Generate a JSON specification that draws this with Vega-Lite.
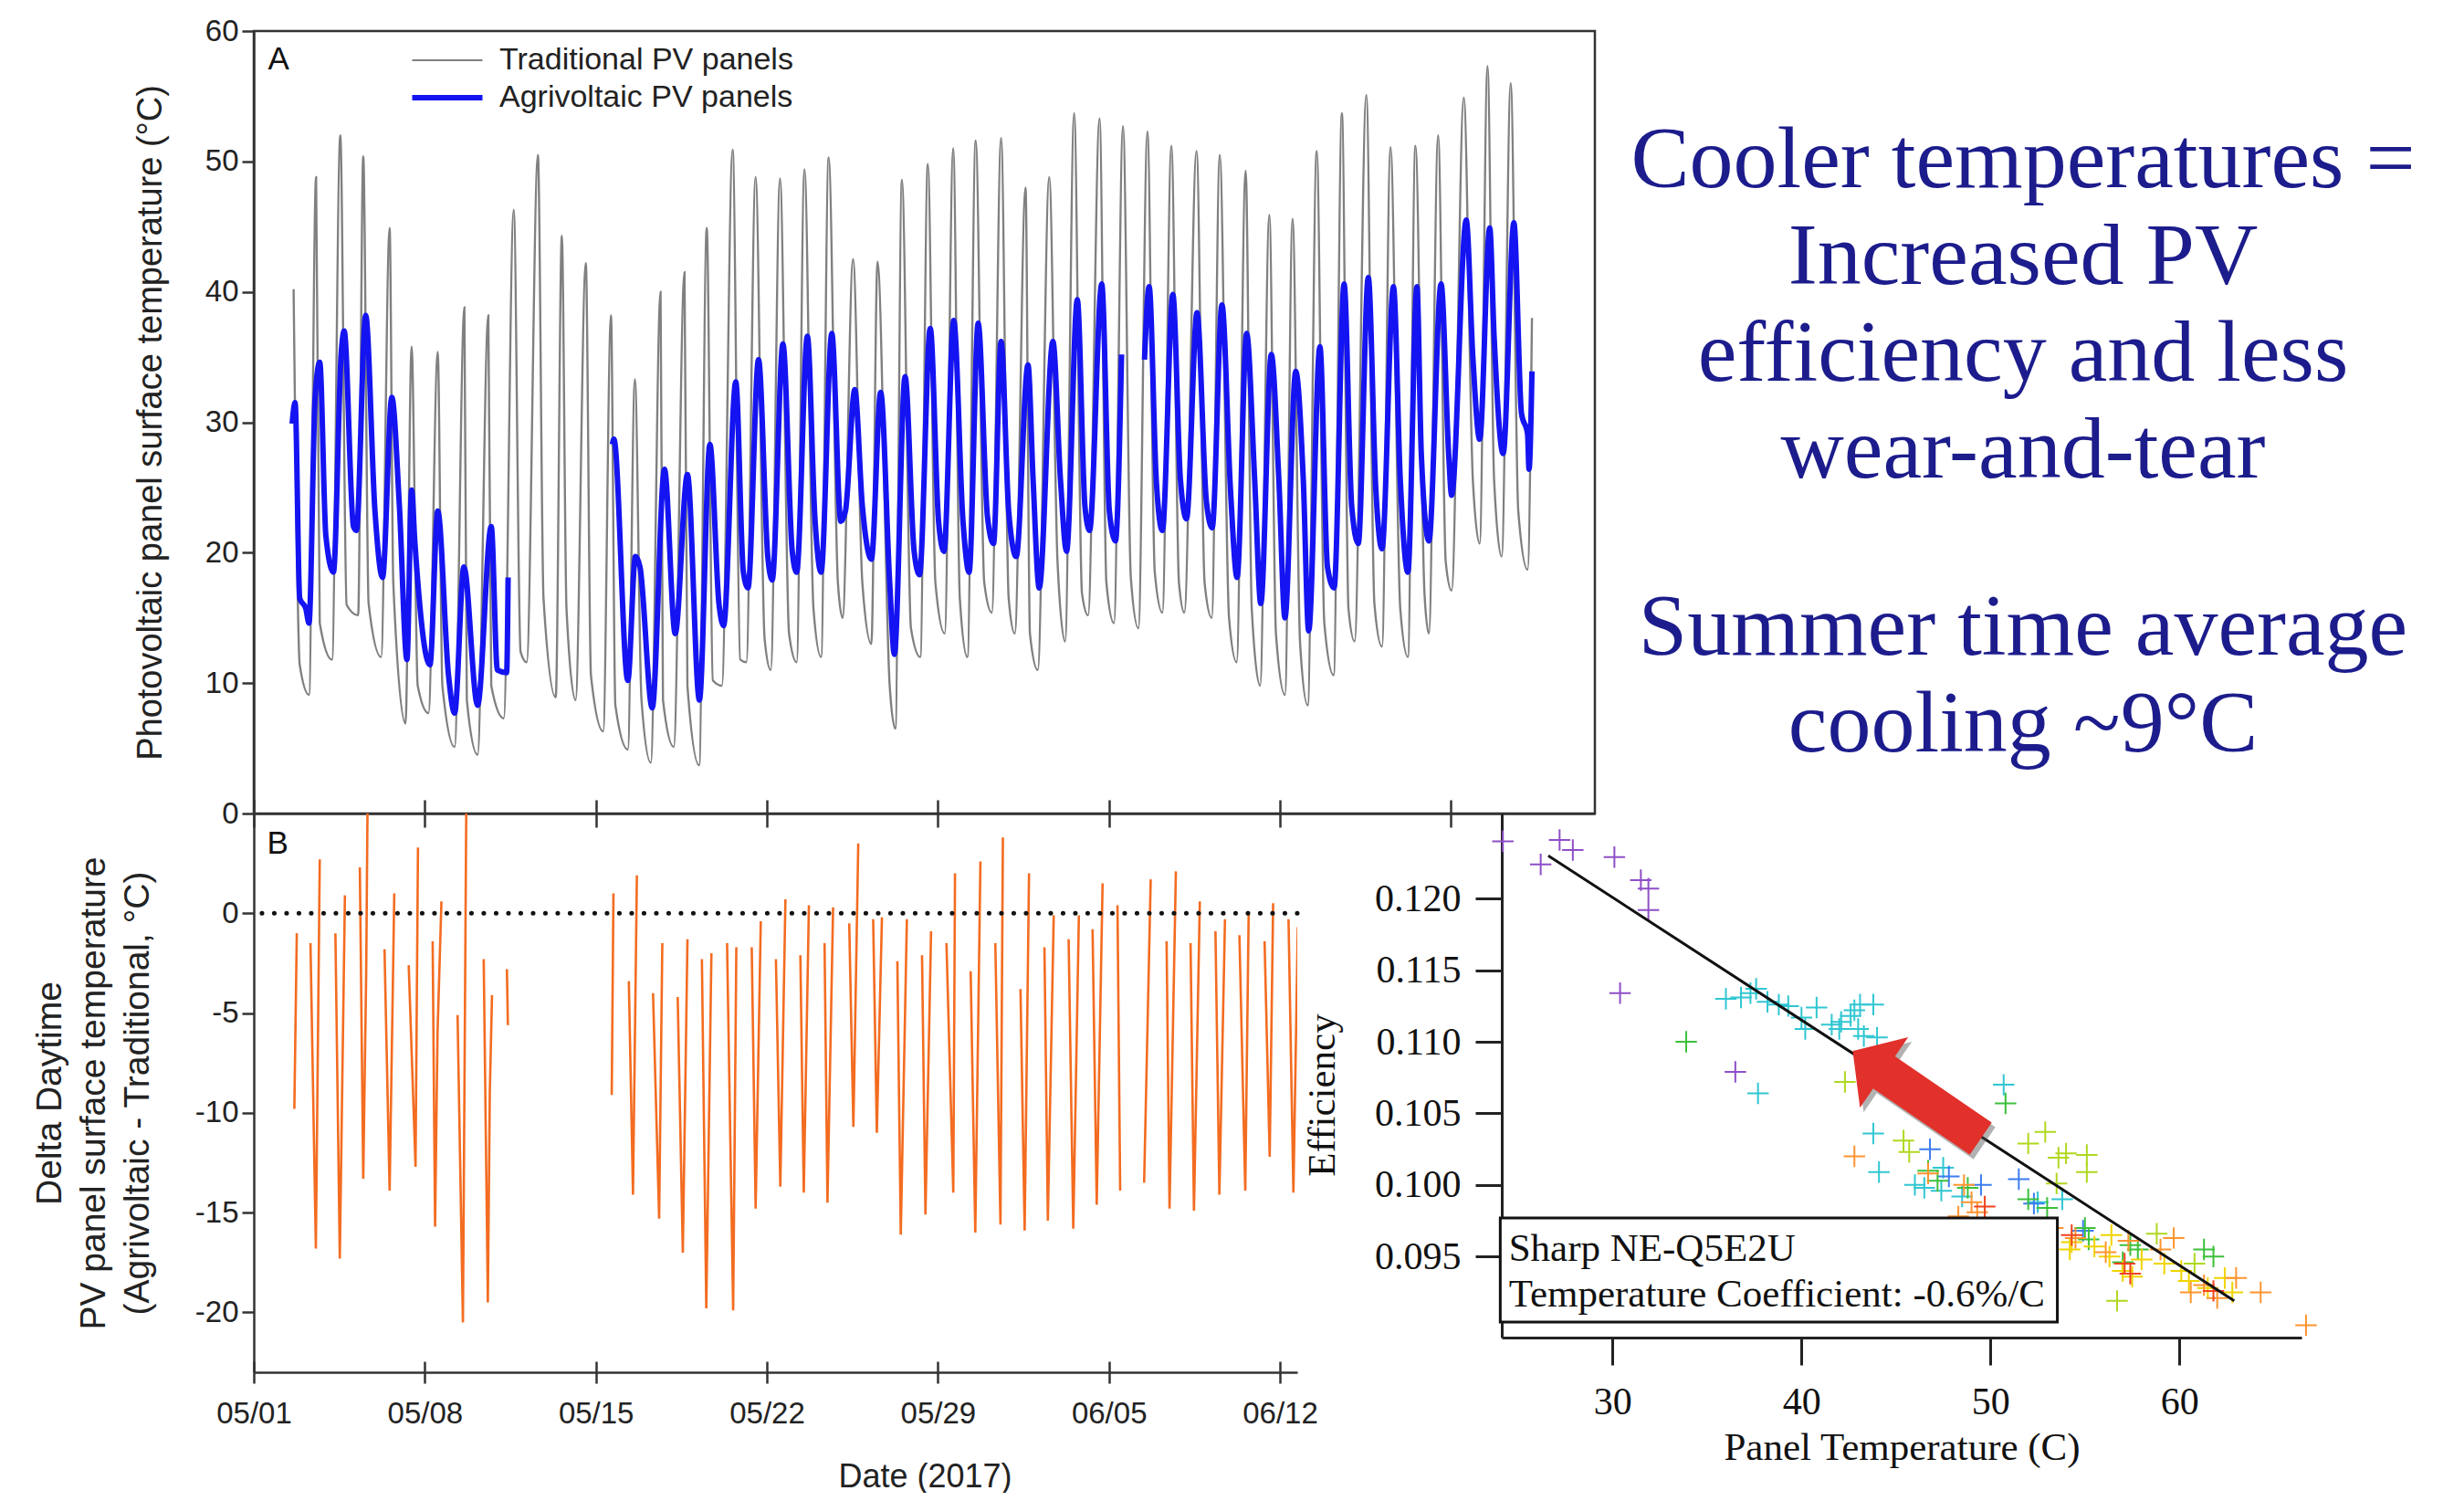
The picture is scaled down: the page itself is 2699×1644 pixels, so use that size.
{
  "$schema": "https://vega.github.io/schema/vega-lite/v6.json",
  "background": "white",
  "autosize": {"type": "pad"},
  "padding": {"left": 35, "top": 16, "right": 0, "bottom": 0},
  "config": {
    "view": {"stroke": null},
    "font": "Liberation Sans",
    "axis": {"labelFont": "Liberation Sans", "titleFont": "Liberation Sans", "domainColor": "#333", "tickColor": "#333", "labelColor": "#222", "titleColor": "#222", "domainWidth": 2.5, "tickWidth": 2.5, "grid": false, "titleFontWeight": "normal", "labelFlush": false}
  },
  "datasets": {
    "trad": [
      {"time":"2017-05-02T15:07","T":40.2,"series":"Traditional PV panels"},
      {"time":"2017-05-02T21:07","T":11.4,"series":"Traditional PV panels"},
      {"time":"2017-05-03T06:14","T":9.1,"series":"Traditional PV panels"},
      {"time":"2017-05-03T13:12","T":48.8,"series":"Traditional PV panels"},
      {"time":"2017-05-03T16:48","T":14.6,"series":"Traditional PV panels"},
      {"time":"2017-05-04T04:48","T":11.8,"series":"Traditional PV panels"},
      {"time":"2017-05-04T12:58","T":52.0,"series":"Traditional PV panels"},
      {"time":"2017-05-04T19:12","T":16.0,"series":"Traditional PV panels"},
      {"time":"2017-05-05T06:29","T":15.2,"series":"Traditional PV panels"},
      {"time":"2017-05-05T11:31","T":50.4,"series":"Traditional PV panels"},
      {"time":"2017-05-05T16:48","T":16.1,"series":"Traditional PV panels"},
      {"time":"2017-05-06T05:02","T":12.0,"series":"Traditional PV panels"},
      {"time":"2017-05-06T13:26","T":44.9,"series":"Traditional PV panels"},
      {"time":"2017-05-06T17:02","T":17.7,"series":"Traditional PV panels"},
      {"time":"2017-05-07T05:02","T":6.9,"series":"Traditional PV panels"},
      {"time":"2017-05-07T11:02","T":35.8,"series":"Traditional PV panels"},
      {"time":"2017-05-07T17:02","T":9.8,"series":"Traditional PV panels"},
      {"time":"2017-05-08T03:36","T":7.7,"series":"Traditional PV panels"},
      {"time":"2017-05-08T12:43","T":35.4,"series":"Traditional PV panels"},
      {"time":"2017-05-08T17:17","T":9.8,"series":"Traditional PV panels"},
      {"time":"2017-05-09T05:17","T":5.1,"series":"Traditional PV panels"},
      {"time":"2017-05-09T14:53","T":38.8,"series":"Traditional PV panels"},
      {"time":"2017-05-09T17:17","T":8.7,"series":"Traditional PV panels"},
      {"time":"2017-05-10T03:50","T":4.5,"series":"Traditional PV panels"},
      {"time":"2017-05-10T14:24","T":38.2,"series":"Traditional PV panels"},
      {"time":"2017-05-10T17:17","T":9.8,"series":"Traditional PV panels"},
      {"time":"2017-05-11T05:31","T":7.3,"series":"Traditional PV panels"},
      {"time":"2017-05-11T15:22","T":46.3,"series":"Traditional PV panels"},
      {"time":"2017-05-11T22:05","T":12.4,"series":"Traditional PV panels"},
      {"time":"2017-05-12T04:05","T":11.6,"series":"Traditional PV panels"},
      {"time":"2017-05-12T15:07","T":50.5,"series":"Traditional PV panels"},
      {"time":"2017-05-12T20:38","T":16.5,"series":"Traditional PV panels"},
      {"time":"2017-05-13T08:38","T":8.9,"series":"Traditional PV panels"},
      {"time":"2017-05-13T14:38","T":44.3,"series":"Traditional PV panels"},
      {"time":"2017-05-13T19:12","T":15.7,"series":"Traditional PV panels"},
      {"time":"2017-05-14T04:05","T":8.7,"series":"Traditional PV panels"},
      {"time":"2017-05-14T14:10","T":42.2,"series":"Traditional PV panels"},
      {"time":"2017-05-14T19:12","T":10.6,"series":"Traditional PV panels"},
      {"time":"2017-05-15T07:12","T":6.3,"series":"Traditional PV panels"},
      {"time":"2017-05-15T14:53","T":38.2,"series":"Traditional PV panels"},
      {"time":"2017-05-15T19:12","T":8.3,"series":"Traditional PV panels"},
      {"time":"2017-05-16T07:26","T":4.9,"series":"Traditional PV panels"},
      {"time":"2017-05-16T14:24","T":33.3,"series":"Traditional PV panels"},
      {"time":"2017-05-16T20:53","T":8.7,"series":"Traditional PV panels"},
      {"time":"2017-05-17T06:00","T":3.9,"series":"Traditional PV panels"},
      {"time":"2017-05-17T15:36","T":40.0,"series":"Traditional PV panels"},
      {"time":"2017-05-17T18:00","T":8.7,"series":"Traditional PV panels"},
      {"time":"2017-05-18T04:34","T":5.1,"series":"Traditional PV panels"},
      {"time":"2017-05-18T15:07","T":41.5,"series":"Traditional PV panels"},
      {"time":"2017-05-18T18:00","T":9.8,"series":"Traditional PV panels"},
      {"time":"2017-05-19T05:31","T":3.7,"series":"Traditional PV panels"},
      {"time":"2017-05-19T12:58","T":44.9,"series":"Traditional PV panels"},
      {"time":"2017-05-19T18:58","T":10.2,"series":"Traditional PV panels"},
      {"time":"2017-05-20T03:50","T":9.8,"series":"Traditional PV panels"},
      {"time":"2017-05-20T14:24","T":50.9,"series":"Traditional PV panels"},
      {"time":"2017-05-20T21:50","T":11.8,"series":"Traditional PV panels"},
      {"time":"2017-05-21T03:50","T":11.6,"series":"Traditional PV panels"},
      {"time":"2017-05-21T12:58","T":48.8,"series":"Traditional PV panels"},
      {"time":"2017-05-21T21:50","T":13.4,"series":"Traditional PV panels"},
      {"time":"2017-05-22T03:50","T":11.0,"series":"Traditional PV panels"},
      {"time":"2017-05-22T12:58","T":48.7,"series":"Traditional PV panels"},
      {"time":"2017-05-22T21:50","T":13.8,"series":"Traditional PV panels"},
      {"time":"2017-05-23T05:17","T":11.6,"series":"Traditional PV panels"},
      {"time":"2017-05-23T12:58","T":49.4,"series":"Traditional PV panels"},
      {"time":"2017-05-23T21:50","T":15.7,"series":"Traditional PV panels"},
      {"time":"2017-05-24T05:17","T":12.0,"series":"Traditional PV panels"},
      {"time":"2017-05-24T12:43","T":50.3,"series":"Traditional PV panels"},
      {"time":"2017-05-24T21:50","T":17.7,"series":"Traditional PV panels"},
      {"time":"2017-05-25T02:24","T":15.0,"series":"Traditional PV panels"},
      {"time":"2017-05-25T12:43","T":42.5,"series":"Traditional PV panels"},
      {"time":"2017-05-25T21:50","T":17.7,"series":"Traditional PV panels"},
      {"time":"2017-05-26T06:43","T":13.0,"series":"Traditional PV panels"},
      {"time":"2017-05-26T12:43","T":42.3,"series":"Traditional PV panels"},
      {"time":"2017-05-27T00:43","T":9.8,"series":"Traditional PV panels"},
      {"time":"2017-05-27T06:14","T":6.5,"series":"Traditional PV panels"},
      {"time":"2017-05-27T12:43","T":48.6,"series":"Traditional PV panels"},
      {"time":"2017-05-27T21:36","T":14.2,"series":"Traditional PV panels"},
      {"time":"2017-05-28T06:43","T":12.0,"series":"Traditional PV panels"},
      {"time":"2017-05-28T14:10","T":49.8,"series":"Traditional PV panels"},
      {"time":"2017-05-28T21:36","T":17.7,"series":"Traditional PV panels"},
      {"time":"2017-05-29T06:43","T":13.8,"series":"Traditional PV panels"},
      {"time":"2017-05-29T15:07","T":51.0,"series":"Traditional PV panels"},
      {"time":"2017-05-29T21:36","T":16.5,"series":"Traditional PV panels"},
      {"time":"2017-05-30T05:02","T":12.0,"series":"Traditional PV panels"},
      {"time":"2017-05-30T13:12","T":51.6,"series":"Traditional PV panels"},
      {"time":"2017-05-30T21:36","T":17.7,"series":"Traditional PV panels"},
      {"time":"2017-05-31T05:02","T":15.4,"series":"Traditional PV panels"},
      {"time":"2017-05-31T14:10","T":51.8,"series":"Traditional PV panels"},
      {"time":"2017-05-31T21:36","T":16.5,"series":"Traditional PV panels"},
      {"time":"2017-06-01T03:36","T":13.8,"series":"Traditional PV panels"},
      {"time":"2017-06-01T14:10","T":48.0,"series":"Traditional PV panels"},
      {"time":"2017-06-01T18:29","T":13.8,"series":"Traditional PV panels"},
      {"time":"2017-06-02T02:10","T":11.0,"series":"Traditional PV panels"},
      {"time":"2017-06-02T13:26","T":48.8,"series":"Traditional PV panels"},
      {"time":"2017-06-02T21:36","T":19.3,"series":"Traditional PV panels"},
      {"time":"2017-06-03T05:02","T":13.2,"series":"Traditional PV panels"},
      {"time":"2017-06-03T13:55","T":53.7,"series":"Traditional PV panels"},
      {"time":"2017-06-03T21:36","T":16.9,"series":"Traditional PV panels"},
      {"time":"2017-06-04T03:36","T":15.2,"series":"Traditional PV panels"},
      {"time":"2017-06-04T14:53","T":53.3,"series":"Traditional PV panels"},
      {"time":"2017-06-04T21:36","T":17.7,"series":"Traditional PV panels"},
      {"time":"2017-06-05T05:02","T":14.6,"series":"Traditional PV panels"},
      {"time":"2017-06-05T13:55","T":52.7,"series":"Traditional PV panels"},
      {"time":"2017-06-05T21:36","T":18.1,"series":"Traditional PV panels"},
      {"time":"2017-06-06T05:02","T":14.2,"series":"Traditional PV panels"},
      {"time":"2017-06-06T13:55","T":52.3,"series":"Traditional PV panels"},
      {"time":"2017-06-06T21:07","T":18.5,"series":"Traditional PV panels"},
      {"time":"2017-06-07T04:34","T":15.4,"series":"Traditional PV panels"},
      {"time":"2017-06-07T13:26","T":51.2,"series":"Traditional PV panels"},
      {"time":"2017-06-07T20:53","T":17.7,"series":"Traditional PV panels"},
      {"time":"2017-06-08T02:10","T":15.4,"series":"Traditional PV panels"},
      {"time":"2017-06-08T14:10","T":50.8,"series":"Traditional PV panels"},
      {"time":"2017-06-08T22:05","T":17.7,"series":"Traditional PV panels"},
      {"time":"2017-06-09T05:02","T":15.0,"series":"Traditional PV panels"},
      {"time":"2017-06-09T12:58","T":50.5,"series":"Traditional PV panels"},
      {"time":"2017-06-09T22:05","T":15.0,"series":"Traditional PV panels"},
      {"time":"2017-06-10T05:31","T":11.6,"series":"Traditional PV panels"},
      {"time":"2017-06-10T14:24","T":49.3,"series":"Traditional PV panels"},
      {"time":"2017-06-10T20:24","T":15.7,"series":"Traditional PV panels"},
      {"time":"2017-06-11T04:34","T":9.8,"series":"Traditional PV panels"},
      {"time":"2017-06-11T13:41","T":45.9,"series":"Traditional PV panels"},
      {"time":"2017-06-11T20:10","T":13.8,"series":"Traditional PV panels"},
      {"time":"2017-06-12T05:02","T":9.1,"series":"Traditional PV panels"},
      {"time":"2017-06-12T12:29","T":45.6,"series":"Traditional PV panels"},
      {"time":"2017-06-12T19:55","T":13.0,"series":"Traditional PV panels"},
      {"time":"2017-06-13T03:22","T":8.3,"series":"Traditional PV panels"},
      {"time":"2017-06-13T12:14","T":50.8,"series":"Traditional PV panels"},
      {"time":"2017-06-13T19:41","T":14.6,"series":"Traditional PV panels"},
      {"time":"2017-06-14T04:48","T":10.6,"series":"Traditional PV panels"},
      {"time":"2017-06-14T12:58","T":53.7,"series":"Traditional PV panels"},
      {"time":"2017-06-14T19:26","T":15.7,"series":"Traditional PV panels"},
      {"time":"2017-06-15T01:26","T":13.2,"series":"Traditional PV panels"},
      {"time":"2017-06-15T12:58","T":55.1,"series":"Traditional PV panels"},
      {"time":"2017-06-15T20:53","T":16.1,"series":"Traditional PV panels"},
      {"time":"2017-06-16T04:19","T":12.8,"series":"Traditional PV panels"},
      {"time":"2017-06-16T12:43","T":51.1,"series":"Traditional PV panels"},
      {"time":"2017-06-16T22:19","T":15.7,"series":"Traditional PV panels"},
      {"time":"2017-06-17T05:46","T":12.0,"series":"Traditional PV panels"},
      {"time":"2017-06-17T13:12","T":51.2,"series":"Traditional PV panels"},
      {"time":"2017-06-17T22:05","T":16.9,"series":"Traditional PV panels"},
      {"time":"2017-06-18T02:24","T":13.8,"series":"Traditional PV panels"},
      {"time":"2017-06-18T11:31","T":52.0,"series":"Traditional PV panels"},
      {"time":"2017-06-18T18:58","T":19.3,"series":"Traditional PV panels"},
      {"time":"2017-06-19T00:43","T":17.1,"series":"Traditional PV panels"},
      {"time":"2017-06-19T12:43","T":54.9,"series":"Traditional PV panels"},
      {"time":"2017-06-19T21:36","T":25.6,"series":"Traditional PV panels"},
      {"time":"2017-06-20T04:19","T":20.7,"series":"Traditional PV panels"},
      {"time":"2017-06-20T12:00","T":57.3,"series":"Traditional PV panels"},
      {"time":"2017-06-20T18:29","T":25.6,"series":"Traditional PV panels"},
      {"time":"2017-06-21T01:55","T":19.7,"series":"Traditional PV panels"},
      {"time":"2017-06-21T10:48","T":56.0,"series":"Traditional PV panels"},
      {"time":"2017-06-21T18:14","T":23.2,"series":"Traditional PV panels"},
      {"time":"2017-06-22T03:22","T":18.7,"series":"Traditional PV panels"},
      {"time":"2017-06-22T07:41","T":38.0,"series":"Traditional PV panels"}
    ],
    "agri": [
      {"time":"2017-05-02T13:41","T":29.9,"run":1,"series":"Agrivoltaic PV panels"},
      {"time":"2017-05-02T16:34","T":31.5,"run":1,"series":"Agrivoltaic PV panels"},
      {"time":"2017-05-02T21:07","T":16.5,"run":1,"series":"Agrivoltaic PV panels"},
      {"time":"2017-05-03T03:07","T":15.7,"run":1,"series":"Agrivoltaic PV panels"},
      {"time":"2017-05-03T06:14","T":14.6,"run":1,"series":"Agrivoltaic PV panels"},
      {"time":"2017-05-03T12:14","T":31.9,"run":1,"series":"Agrivoltaic PV panels"},
      {"time":"2017-05-03T16:48","T":34.6,"run":1,"series":"Agrivoltaic PV panels"},
      {"time":"2017-05-03T22:48","T":21.3,"run":1,"series":"Agrivoltaic PV panels"},
      {"time":"2017-05-04T06:14","T":18.5,"run":1,"series":"Agrivoltaic PV panels"},
      {"time":"2017-05-04T13:55","T":35.4,"run":1,"series":"Agrivoltaic PV panels"},
      {"time":"2017-05-04T16:48","T":37.0,"run":1,"series":"Agrivoltaic PV panels"},
      {"time":"2017-05-05T01:55","T":22.0,"run":1,"series":"Agrivoltaic PV panels"},
      {"time":"2017-05-05T04:48","T":21.7,"run":1,"series":"Agrivoltaic PV panels"},
      {"time":"2017-05-05T13:55","T":38.2,"run":1,"series":"Agrivoltaic PV panels"},
      {"time":"2017-05-05T23:02","T":23.2,"run":1,"series":"Agrivoltaic PV panels"},
      {"time":"2017-05-06T06:29","T":18.1,"run":1,"series":"Agrivoltaic PV panels"},
      {"time":"2017-05-06T15:36","T":31.9,"run":1,"series":"Agrivoltaic PV panels"},
      {"time":"2017-05-06T23:02","T":23.6,"run":1,"series":"Agrivoltaic PV panels"},
      {"time":"2017-05-07T06:29","T":11.8,"run":1,"series":"Agrivoltaic PV panels"},
      {"time":"2017-05-07T11:02","T":24.8,"run":1,"series":"Agrivoltaic PV panels"},
      {"time":"2017-05-07T14:10","T":20.9,"run":1,"series":"Agrivoltaic PV panels"},
      {"time":"2017-05-08T05:02","T":11.4,"run":1,"series":"Agrivoltaic PV panels"},
      {"time":"2017-05-08T12:43","T":23.2,"run":1,"series":"Agrivoltaic PV panels"},
      {"time":"2017-05-08T23:17","T":10.6,"run":1,"series":"Agrivoltaic PV panels"},
      {"time":"2017-05-09T05:17","T":7.7,"run":1,"series":"Agrivoltaic PV panels"},
      {"time":"2017-05-09T14:24","T":18.9,"run":1,"series":"Agrivoltaic PV panels"},
      {"time":"2017-05-10T03:50","T":8.3,"run":1,"series":"Agrivoltaic PV panels"},
      {"time":"2017-05-10T17:17","T":22.0,"run":1,"series":"Agrivoltaic PV panels"},
      {"time":"2017-05-10T23:17","T":11.0,"run":1,"series":"Agrivoltaic PV panels"},
      {"time":"2017-05-11T08:24","T":10.8,"run":1,"series":"Agrivoltaic PV panels"},
      {"time":"2017-05-11T09:50","T":18.1,"run":1,"series":"Agrivoltaic PV panels"},
      {"time":"2017-05-15T16:19","T":28.3,"run":2,"series":"Agrivoltaic PV panels"},
      {"time":"2017-05-15T17:46","T":28.7,"run":2,"series":"Agrivoltaic PV panels"},
      {"time":"2017-05-16T07:26","T":10.2,"run":2,"series":"Agrivoltaic PV panels"},
      {"time":"2017-05-16T14:53","T":19.7,"run":2,"series":"Agrivoltaic PV panels"},
      {"time":"2017-05-16T19:26","T":18.9,"run":2,"series":"Agrivoltaic PV panels"},
      {"time":"2017-05-17T07:26","T":8.1,"run":2,"series":"Agrivoltaic PV panels"},
      {"time":"2017-05-17T19:26","T":26.4,"run":2,"series":"Agrivoltaic PV panels"},
      {"time":"2017-05-18T06:00","T":13.8,"run":2,"series":"Agrivoltaic PV panels"},
      {"time":"2017-05-18T18:00","T":26.0,"run":2,"series":"Agrivoltaic PV panels"},
      {"time":"2017-05-19T05:46","T":8.7,"run":2,"series":"Agrivoltaic PV panels"},
      {"time":"2017-05-19T16:05","T":28.3,"run":2,"series":"Agrivoltaic PV panels"},
      {"time":"2017-05-20T00:58","T":16.1,"run":2,"series":"Agrivoltaic PV panels"},
      {"time":"2017-05-20T05:31","T":14.4,"run":2,"series":"Agrivoltaic PV panels"},
      {"time":"2017-05-20T17:31","T":33.1,"run":2,"series":"Agrivoltaic PV panels"},
      {"time":"2017-05-21T00:58","T":18.5,"run":2,"series":"Agrivoltaic PV panels"},
      {"time":"2017-05-21T05:31","T":17.3,"run":2,"series":"Agrivoltaic PV panels"},
      {"time":"2017-05-21T15:50","T":34.8,"run":2,"series":"Agrivoltaic PV panels"},
      {"time":"2017-05-22T00:58","T":19.7,"run":2,"series":"Agrivoltaic PV panels"},
      {"time":"2017-05-22T05:17","T":17.9,"run":2,"series":"Agrivoltaic PV panels"},
      {"time":"2017-05-22T15:50","T":36.0,"run":2,"series":"Agrivoltaic PV panels"},
      {"time":"2017-05-23T00:58","T":20.1,"run":2,"series":"Agrivoltaic PV panels"},
      {"time":"2017-05-23T05:17","T":18.5,"run":2,"series":"Agrivoltaic PV panels"},
      {"time":"2017-05-23T15:50","T":36.6,"run":2,"series":"Agrivoltaic PV panels"},
      {"time":"2017-05-23T23:17","T":22.6,"run":2,"series":"Agrivoltaic PV panels"},
      {"time":"2017-05-24T05:17","T":18.5,"run":2,"series":"Agrivoltaic PV panels"},
      {"time":"2017-05-24T15:50","T":36.8,"run":2,"series":"Agrivoltaic PV panels"},
      {"time":"2017-05-25T00:43","T":22.4,"run":2,"series":"Agrivoltaic PV panels"},
      {"time":"2017-05-25T05:17","T":23.2,"run":2,"series":"Agrivoltaic PV panels"},
      {"time":"2017-05-25T14:24","T":32.5,"run":2,"series":"Agrivoltaic PV panels"},
      {"time":"2017-05-25T21:50","T":23.6,"run":2,"series":"Agrivoltaic PV panels"},
      {"time":"2017-05-26T06:43","T":19.5,"run":2,"series":"Agrivoltaic PV panels"},
      {"time":"2017-05-26T15:50","T":32.3,"run":2,"series":"Agrivoltaic PV panels"},
      {"time":"2017-05-27T00:43","T":17.7,"run":2,"series":"Agrivoltaic PV panels"},
      {"time":"2017-05-27T05:17","T":12.2,"run":2,"series":"Agrivoltaic PV panels"},
      {"time":"2017-05-27T15:50","T":33.5,"run":2,"series":"Agrivoltaic PV panels"},
      {"time":"2017-05-28T00:43","T":20.1,"run":2,"series":"Agrivoltaic PV panels"},
      {"time":"2017-05-28T06:00","T":18.3,"run":2,"series":"Agrivoltaic PV panels"},
      {"time":"2017-05-28T16:34","T":37.2,"run":2,"series":"Agrivoltaic PV panels"},
      {"time":"2017-05-29T00:43","T":22.4,"run":2,"series":"Agrivoltaic PV panels"},
      {"time":"2017-05-29T06:00","T":20.1,"run":2,"series":"Agrivoltaic PV panels"},
      {"time":"2017-05-29T15:36","T":37.8,"run":2,"series":"Agrivoltaic PV panels"},
      {"time":"2017-05-30T00:43","T":22.4,"run":2,"series":"Agrivoltaic PV panels"},
      {"time":"2017-05-30T06:43","T":18.5,"run":2,"series":"Agrivoltaic PV panels"},
      {"time":"2017-05-30T15:36","T":37.6,"run":2,"series":"Agrivoltaic PV panels"},
      {"time":"2017-05-31T00:43","T":22.8,"run":2,"series":"Agrivoltaic PV panels"},
      {"time":"2017-05-31T06:43","T":20.7,"run":2,"series":"Agrivoltaic PV panels"},
      {"time":"2017-05-31T14:10","T":36.2,"run":2,"series":"Agrivoltaic PV panels"},
      {"time":"2017-05-31T21:36","T":23.2,"run":2,"series":"Agrivoltaic PV panels"},
      {"time":"2017-06-01T05:02","T":19.7,"run":2,"series":"Agrivoltaic PV panels"},
      {"time":"2017-06-01T16:34","T":34.4,"run":2,"series":"Agrivoltaic PV panels"},
      {"time":"2017-06-01T21:36","T":25.6,"run":2,"series":"Agrivoltaic PV panels"},
      {"time":"2017-06-02T03:36","T":17.3,"run":2,"series":"Agrivoltaic PV panels"},
      {"time":"2017-06-02T17:02","T":36.2,"run":2,"series":"Agrivoltaic PV panels"},
      {"time":"2017-06-03T00:29","T":25.6,"run":2,"series":"Agrivoltaic PV panels"},
      {"time":"2017-06-03T06:29","T":20.1,"run":2,"series":"Agrivoltaic PV panels"},
      {"time":"2017-06-03T17:02","T":39.4,"run":2,"series":"Agrivoltaic PV panels"},
      {"time":"2017-06-04T00:29","T":23.6,"run":2,"series":"Agrivoltaic PV panels"},
      {"time":"2017-06-04T05:02","T":21.7,"run":2,"series":"Agrivoltaic PV panels"},
      {"time":"2017-06-04T17:02","T":40.6,"run":2,"series":"Agrivoltaic PV panels"},
      {"time":"2017-06-05T00:29","T":23.2,"run":2,"series":"Agrivoltaic PV panels"},
      {"time":"2017-06-05T06:29","T":20.9,"run":2,"series":"Agrivoltaic PV panels"},
      {"time":"2017-06-05T12:29","T":35.2,"run":2,"series":"Agrivoltaic PV panels"},
      {"time":"2017-06-06T11:02","T":34.8,"run":3,"series":"Agrivoltaic PV panels"},
      {"time":"2017-06-06T15:36","T":40.4,"run":3,"series":"Agrivoltaic PV panels"},
      {"time":"2017-06-06T22:34","T":25.6,"run":3,"series":"Agrivoltaic PV panels"},
      {"time":"2017-06-07T04:34","T":21.7,"run":3,"series":"Agrivoltaic PV panels"},
      {"time":"2017-06-07T14:53","T":39.8,"run":3,"series":"Agrivoltaic PV panels"},
      {"time":"2017-06-07T22:19","T":25.6,"run":3,"series":"Agrivoltaic PV panels"},
      {"time":"2017-06-08T04:19","T":22.6,"run":3,"series":"Agrivoltaic PV panels"},
      {"time":"2017-06-08T14:38","T":38.4,"run":3,"series":"Agrivoltaic PV panels"},
      {"time":"2017-06-08T23:46","T":24.0,"run":3,"series":"Agrivoltaic PV panels"},
      {"time":"2017-06-09T05:31","T":21.9,"run":3,"series":"Agrivoltaic PV panels"},
      {"time":"2017-06-09T15:07","T":39.0,"run":3,"series":"Agrivoltaic PV panels"},
      {"time":"2017-06-09T23:31","T":24.8,"run":3,"series":"Agrivoltaic PV panels"},
      {"time":"2017-06-10T06:00","T":18.1,"run":3,"series":"Agrivoltaic PV panels"},
      {"time":"2017-06-10T15:22","T":36.8,"run":3,"series":"Agrivoltaic PV panels"},
      {"time":"2017-06-10T23:17","T":25.6,"run":3,"series":"Agrivoltaic PV panels"},
      {"time":"2017-06-11T05:17","T":16.1,"run":3,"series":"Agrivoltaic PV panels"},
      {"time":"2017-06-11T15:36","T":35.2,"run":3,"series":"Agrivoltaic PV panels"},
      {"time":"2017-06-11T23:02","T":25.6,"run":3,"series":"Agrivoltaic PV panels"},
      {"time":"2017-06-12T05:02","T":15.0,"run":3,"series":"Agrivoltaic PV panels"},
      {"time":"2017-06-12T15:36","T":33.9,"run":3,"series":"Agrivoltaic PV panels"},
      {"time":"2017-06-12T23:02","T":25.6,"run":3,"series":"Agrivoltaic PV panels"},
      {"time":"2017-06-13T04:19","T":14.0,"run":3,"series":"Agrivoltaic PV panels"},
      {"time":"2017-06-13T15:22","T":35.8,"run":3,"series":"Agrivoltaic PV panels"},
      {"time":"2017-06-13T22:48","T":18.9,"run":3,"series":"Agrivoltaic PV panels"},
      {"time":"2017-06-14T05:17","T":17.3,"run":3,"series":"Agrivoltaic PV panels"},
      {"time":"2017-06-14T15:07","T":40.6,"run":3,"series":"Agrivoltaic PV panels"},
      {"time":"2017-06-14T22:34","T":23.6,"run":3,"series":"Agrivoltaic PV panels"},
      {"time":"2017-06-15T05:02","T":20.7,"run":3,"series":"Agrivoltaic PV panels"},
      {"time":"2017-06-15T14:53","T":41.1,"run":3,"series":"Agrivoltaic PV panels"},
      {"time":"2017-06-15T22:19","T":24.8,"run":3,"series":"Agrivoltaic PV panels"},
      {"time":"2017-06-16T04:19","T":20.3,"run":3,"series":"Agrivoltaic PV panels"},
      {"time":"2017-06-16T15:36","T":40.4,"run":3,"series":"Agrivoltaic PV panels"},
      {"time":"2017-06-16T22:19","T":25.6,"run":3,"series":"Agrivoltaic PV panels"},
      {"time":"2017-06-17T05:46","T":18.5,"run":3,"series":"Agrivoltaic PV panels"},
      {"time":"2017-06-17T14:38","T":40.4,"run":3,"series":"Agrivoltaic PV panels"},
      {"time":"2017-06-17T18:58","T":27.6,"run":3,"series":"Agrivoltaic PV panels"},
      {"time":"2017-06-18T02:24","T":20.9,"run":3,"series":"Agrivoltaic PV panels"},
      {"time":"2017-06-18T14:24","T":40.6,"run":3,"series":"Agrivoltaic PV panels"},
      {"time":"2017-06-18T21:50","T":27.6,"run":3,"series":"Agrivoltaic PV panels"},
      {"time":"2017-06-19T00:43","T":24.4,"run":3,"series":"Agrivoltaic PV panels"},
      {"time":"2017-06-19T15:07","T":45.5,"run":3,"series":"Agrivoltaic PV panels"},
      {"time":"2017-06-19T21:36","T":35.0,"run":3,"series":"Agrivoltaic PV panels"},
      {"time":"2017-06-20T04:19","T":28.7,"run":3,"series":"Agrivoltaic PV panels"},
      {"time":"2017-06-20T14:10","T":44.9,"run":3,"series":"Agrivoltaic PV panels"},
      {"time":"2017-06-20T18:29","T":36.6,"run":3,"series":"Agrivoltaic PV panels"},
      {"time":"2017-06-21T03:22","T":27.6,"run":3,"series":"Agrivoltaic PV panels"},
      {"time":"2017-06-21T13:55","T":45.3,"run":3,"series":"Agrivoltaic PV panels"},
      {"time":"2017-06-21T21:22","T":30.7,"run":3,"series":"Agrivoltaic PV panels"},
      {"time":"2017-06-22T03:22","T":29.1,"run":3,"series":"Agrivoltaic PV panels"},
      {"time":"2017-06-22T04:48","T":26.4,"run":3,"series":"Agrivoltaic PV panels"},
      {"time":"2017-06-22T07:41","T":33.9,"run":3,"series":"Agrivoltaic PV panels"}
    ],
    "delta": [
      {"time":"2017-05-02T15:50","dT":-9.8,"day":2},{"time":"2017-05-02T18:14","dT":-1.0,"day":2},
      {"time":"2017-05-03T07:41","dT":-1.5,"day":3},{"time":"2017-05-03T12:58","dT":-16.8,"day":3},{"time":"2017-05-03T16:48","dT":2.7,"day":3},
      {"time":"2017-05-04T08:10","dT":-1.0,"day":4},{"time":"2017-05-04T12:29","dT":-17.3,"day":4},{"time":"2017-05-04T17:31","dT":0.9,"day":4},
      {"time":"2017-05-05T08:10","dT":2.3,"day":5},{"time":"2017-05-05T11:31","dT":-13.3,"day":5},{"time":"2017-05-05T14:24","dT":-3.0,"day":5},{"time":"2017-05-05T15:50","dT":6.0,"day":5},
      {"time":"2017-05-06T08:24","dT":-1.8,"day":6},{"time":"2017-05-06T13:26","dT":-13.9,"day":6},{"time":"2017-05-06T18:00","dT":1.0,"day":6},
      {"time":"2017-05-07T08:10","dT":-2.6,"day":7},{"time":"2017-05-07T14:53","dT":-12.7,"day":7},{"time":"2017-05-07T17:17","dT":3.3,"day":7},
      {"time":"2017-05-08T07:41","dT":-1.4,"day":8},{"time":"2017-05-08T10:05","dT":-15.7,"day":8},{"time":"2017-05-08T12:29","dT":-6.0,"day":8},{"time":"2017-05-08T16:19","dT":0.6,"day":8},
      {"time":"2017-05-09T08:10","dT":-5.1,"day":9},{"time":"2017-05-09T13:26","dT":-20.5,"day":9},{"time":"2017-05-09T16:48","dT":6.0,"day":9},
      {"time":"2017-05-10T09:50","dT":-2.3,"day":10},{"time":"2017-05-10T13:55","dT":-19.5,"day":10},{"time":"2017-05-10T15:50","dT":-9.0,"day":10},{"time":"2017-05-10T18:00","dT":-4.1,"day":10},
      {"time":"2017-05-11T08:38","dT":-2.8,"day":11},{"time":"2017-05-11T09:36","dT":-5.6,"day":11},
      {"time":"2017-05-15T15:36","dT":-9.1,"day":15},{"time":"2017-05-15T17:17","dT":1.0,"day":15},
      {"time":"2017-05-16T08:24","dT":-3.4,"day":16},{"time":"2017-05-16T12:29","dT":-14.1,"day":16},{"time":"2017-05-16T16:19","dT":1.9,"day":16},
      {"time":"2017-05-17T08:10","dT":-4.0,"day":17},{"time":"2017-05-17T14:10","dT":-15.3,"day":17},{"time":"2017-05-17T17:17","dT":-1.5,"day":17},
      {"time":"2017-05-18T08:24","dT":-4.2,"day":18},{"time":"2017-05-18T13:26","dT":-17.0,"day":18},{"time":"2017-05-18T18:00","dT":-1.3,"day":18},
      {"time":"2017-05-19T08:10","dT":-2.3,"day":19},{"time":"2017-05-19T12:29","dT":-19.8,"day":19},{"time":"2017-05-19T17:31","dT":-2.0,"day":19},
      {"time":"2017-05-20T08:53","dT":-1.5,"day":20},{"time":"2017-05-20T14:53","dT":-19.9,"day":20},{"time":"2017-05-20T18:00","dT":-1.7,"day":20},
      {"time":"2017-05-21T09:07","dT":-1.7,"day":21},{"time":"2017-05-21T12:58","dT":-14.8,"day":21},{"time":"2017-05-21T18:00","dT":-0.4,"day":21},
      {"time":"2017-05-22T08:53","dT":-2.3,"day":22},{"time":"2017-05-22T13:12","dT":-13.7,"day":22},{"time":"2017-05-22T18:14","dT":0.7,"day":22},
      {"time":"2017-05-23T08:53","dT":-2.1,"day":23},{"time":"2017-05-23T12:14","dT":-14.0,"day":23},{"time":"2017-05-23T17:17","dT":0.4,"day":23},
      {"time":"2017-05-24T08:38","dT":-1.5,"day":24},{"time":"2017-05-24T11:31","dT":-14.5,"day":24},{"time":"2017-05-24T17:02","dT":0.3,"day":24},
      {"time":"2017-05-25T08:53","dT":-0.5,"day":25},{"time":"2017-05-25T12:58","dT":-10.7,"day":25},{"time":"2017-05-25T17:46","dT":3.5,"day":25},
      {"time":"2017-05-26T08:24","dT":-0.3,"day":26},{"time":"2017-05-26T12:00","dT":-11.0,"day":26},{"time":"2017-05-26T17:02","dT":-0.2,"day":26},
      {"time":"2017-05-27T08:10","dT":-2.4,"day":27},{"time":"2017-05-27T11:31","dT":-16.1,"day":27},{"time":"2017-05-27T17:31","dT":-0.3,"day":27},
      {"time":"2017-05-28T08:24","dT":-2.1,"day":28},{"time":"2017-05-28T11:46","dT":-15.1,"day":28},{"time":"2017-05-28T17:17","dT":-0.9,"day":28},
      {"time":"2017-05-29T08:24","dT":-1.5,"day":29},{"time":"2017-05-29T15:07","dT":-14.0,"day":29},{"time":"2017-05-29T16:48","dT":2.0,"day":29},
      {"time":"2017-05-30T08:10","dT":-2.9,"day":30},{"time":"2017-05-30T12:43","dT":-16.0,"day":30},{"time":"2017-05-30T17:46","dT":2.6,"day":30},
      {"time":"2017-05-31T08:24","dT":-1.5,"day":31},{"time":"2017-05-31T13:26","dT":-15.6,"day":31},{"time":"2017-05-31T15:50","dT":3.8,"day":31},
      {"time":"2017-06-01T09:07","dT":-3.8,"day":32},{"time":"2017-06-01T13:12","dT":-15.9,"day":32},{"time":"2017-06-01T17:31","dT":2.0,"day":32},
      {"time":"2017-06-02T08:38","dT":-1.7,"day":33},{"time":"2017-06-02T12:00","dT":-15.4,"day":33},{"time":"2017-06-02T17:46","dT":-0.1,"day":33},
      {"time":"2017-06-03T08:24","dT":-1.3,"day":34},{"time":"2017-06-03T12:58","dT":-15.8,"day":34},{"time":"2017-06-03T18:29","dT":-0.1,"day":34},
      {"time":"2017-06-04T07:55","dT":-0.8,"day":35},{"time":"2017-06-04T12:00","dT":-14.6,"day":35},{"time":"2017-06-04T17:46","dT":1.5,"day":35},
      {"time":"2017-06-05T08:24","dT":0.4,"day":36},{"time":"2017-06-05T11:02","dT":-13.9,"day":36},
      {"time":"2017-06-06T10:34","dT":-13.5,"day":37},{"time":"2017-06-06T17:02","dT":1.7,"day":37},
      {"time":"2017-06-07T08:38","dT":-1.4,"day":38},{"time":"2017-06-07T11:31","dT":-14.8,"day":38},{"time":"2017-06-07T17:46","dT":2.1,"day":38},
      {"time":"2017-06-08T08:10","dT":-1.5,"day":39},{"time":"2017-06-08T11:31","dT":-14.9,"day":39},{"time":"2017-06-08T17:17","dT":0.6,"day":39},
      {"time":"2017-06-09T08:38","dT":-0.9,"day":40},{"time":"2017-06-09T12:29","dT":-14.1,"day":40},{"time":"2017-06-09T18:00","dT":-0.3,"day":40},
      {"time":"2017-06-10T08:10","dT":-1.1,"day":41},{"time":"2017-06-10T13:55","dT":-13.9,"day":41},{"time":"2017-06-10T17:17","dT":0.1,"day":41},
      {"time":"2017-06-11T08:53","dT":-1.4,"day":42},{"time":"2017-06-11T13:55","dT":-12.2,"day":42},{"time":"2017-06-11T17:17","dT":0.5,"day":42},
      {"time":"2017-06-12T08:24","dT":-0.3,"day":43},{"time":"2017-06-12T13:12","dT":-14.0,"day":43},{"time":"2017-06-12T17:31","dT":-0.7,"day":43}
    ],
    "eff": [
      {"T":24.2,"eff":0.1240,"grp":"g1"},{"T":26.2,"eff":0.1224,"grp":"g1"},{"T":27.2,"eff":0.1241,"grp":"g1"},{"T":27.9,"eff":0.1234,"grp":"g1"},{"T":30.1,"eff":0.1229,"grp":"g1"},
      {"T":31.5,"eff":0.1213,"grp":"g1"},{"T":31.9,"eff":0.1207,"grp":"g1"},{"T":31.9,"eff":0.1192,"grp":"g1"},{"T":30.4,"eff":0.1134,"grp":"g1"},{"T":36.5,"eff":0.1079,"grp":"g1"},
      {"T":36.0,"eff":0.1130,"grp":"g2"},{"T":36.8,"eff":0.1131,"grp":"g2"},{"T":37.3,"eff":0.1134,"grp":"g2"},{"T":37.6,"eff":0.1137,"grp":"g2"},{"T":38.2,"eff":0.1128,"grp":"g2"},
      {"T":38.8,"eff":0.1126,"grp":"g2"},{"T":39.3,"eff":0.1125,"grp":"g2"},{"T":40.0,"eff":0.1117,"grp":"g2"},{"T":40.8,"eff":0.1124,"grp":"g2"},{"T":40.2,"eff":0.1109,"grp":"g2"},
      {"T":41.6,"eff":0.1112,"grp":"g2"},{"T":42.0,"eff":0.1109,"grp":"g2"},{"T":42.1,"eff":0.1114,"grp":"g2"},{"T":42.6,"eff":0.1118,"grp":"g2"},{"T":42.8,"eff":0.1122,"grp":"g2"},
      {"T":43.0,"eff":0.1109,"grp":"g2"},{"T":43.3,"eff":0.1104,"grp":"g2"},{"T":43.1,"eff":0.1126,"grp":"g2"},{"T":43.8,"eff":0.1126,"grp":"g2"},{"T":44.0,"eff":0.1103,"grp":"g2"},
      {"T":37.7,"eff":0.1064,"grp":"g2"},{"T":43.8,"eff":0.1036,"grp":"g2"},{"T":44.1,"eff":0.1009,"grp":"g2"},{"T":50.7,"eff":0.1070,"grp":"g2"},{"T":47.5,"eff":0.1012,"grp":"g2"},
      {"T":46.0,"eff":0.1000,"grp":"g2"},{"T":46.5,"eff":0.0998,"grp":"g2"},{"T":47.4,"eff":0.0996,"grp":"g2"},{"T":52.5,"eff":0.0988,"grp":"g2"},{"T":53.8,"eff":0.0990,"grp":"g2"},
      {"T":48.5,"eff":0.0992,"grp":"g2"},
      {"T":46.8,"eff":0.1025,"grp":"g3"},{"T":47.8,"eff":0.1006,"grp":"g3"},{"T":51.5,"eff":0.1004,"grp":"g3"},{"T":52.3,"eff":0.0987,"grp":"g3"},{"T":49.5,"eff":0.1000,"grp":"g3"},
      {"T":54.9,"eff":0.0968,"grp":"g3"},
      {"T":33.9,"eff":0.1100,"grp":"g4"},{"T":50.8,"eff":0.1057,"grp":"g4"},{"T":46.7,"eff":0.1010,"grp":"g4"},{"T":47.2,"eff":0.1003,"grp":"g4"},{"T":48.8,"eff":0.0998,"grp":"g4"},
      {"T":52.0,"eff":0.0990,"grp":"g4"},{"T":53.0,"eff":0.0984,"grp":"g4"},{"T":55.0,"eff":0.0970,"grp":"g4"},{"T":55.2,"eff":0.0962,"grp":"g4"},{"T":57.4,"eff":0.0958,"grp":"g4"},
      {"T":57.8,"eff":0.0955,"grp":"g4"},{"T":61.3,"eff":0.0955,"grp":"g4"},{"T":61.8,"eff":0.0950,"grp":"g4"},{"T":57.0,"eff":0.0946,"grp":"g4"},
      {"T":42.3,"eff":0.1072,"grp":"g5"},{"T":45.4,"eff":0.1031,"grp":"g5"},{"T":45.7,"eff":0.1023,"grp":"g5"},{"T":52.0,"eff":0.1029,"grp":"g5"},{"T":52.9,"eff":0.1037,"grp":"g5"},
      {"T":53.6,"eff":0.1019,"grp":"g5"},{"T":54.0,"eff":0.1022,"grp":"g5"},{"T":55.1,"eff":0.1021,"grp":"g5"},{"T":55.1,"eff":0.1009,"grp":"g5"},{"T":53.5,"eff":0.1001,"grp":"g5"},
      {"T":56.7,"eff":0.0919,"grp":"g5"},{"T":58.8,"eff":0.0966,"grp":"g5"},{"T":60.8,"eff":0.0945,"grp":"g5"},
      {"T":54.3,"eff":0.0960,"grp":"g6"},{"T":55.5,"eff":0.0957,"grp":"g6"},{"T":56.3,"eff":0.0950,"grp":"g6"},{"T":57.0,"eff":0.0940,"grp":"g6"},{"T":57.5,"eff":0.0936,"grp":"g6"},
      {"T":58.0,"eff":0.0948,"grp":"g6"},{"T":59.2,"eff":0.0945,"grp":"g6"},{"T":60.1,"eff":0.0940,"grp":"g6"},{"T":60.5,"eff":0.0933,"grp":"g6"},{"T":61.5,"eff":0.0928,"grp":"g6"},
      {"T":62.4,"eff":0.0935,"grp":"g6"},{"T":62.8,"eff":0.0925,"grp":"g6"},{"T":56.4,"eff":0.0965,"grp":"g6"},{"T":54.2,"eff":0.0955,"grp":"g6"},
      {"T":42.8,"eff":0.1020,"grp":"g7"},{"T":46.7,"eff":0.1008,"grp":"g7"},{"T":48.6,"eff":0.1000,"grp":"g7"},{"T":49.0,"eff":0.0988,"grp":"g7"},{"T":49.3,"eff":0.0981,"grp":"g7"},
      {"T":48.3,"eff":0.0978,"grp":"g7"},{"T":53.3,"eff":0.0970,"grp":"g7"},{"T":54.5,"eff":0.0963,"grp":"g7"},{"T":56.1,"eff":0.0953,"grp":"g7"},{"T":57.3,"eff":0.0961,"grp":"g7"},
      {"T":59.7,"eff":0.0963,"grp":"g7"},{"T":60.6,"eff":0.0925,"grp":"g7"},{"T":61.3,"eff":0.0930,"grp":"g7"},{"T":62.0,"eff":0.0921,"grp":"g7"},{"T":63.0,"eff":0.0935,"grp":"g7"},
      {"T":64.3,"eff":0.0925,"grp":"g7"},{"T":66.7,"eff":0.0902,"grp":"g7"},{"T":59.0,"eff":0.0955,"grp":"g7"},
      {"T":49.7,"eff":0.0985,"grp":"g8"},{"T":54.3,"eff":0.0965,"grp":"g8"},{"T":57.1,"eff":0.0945,"grp":"g8"},{"T":57.4,"eff":0.0938,"grp":"g8"},{"T":61.8,"eff":0.0926,"grp":"g8"}
    ],
    "msg": [
      {"block":"b1","text":"Cooler temperatures =\nIncreased PV\nefficiency and less\nwear-and-tear"},
      {"block":"b2","text":"Summer time average\ncooling ~9°C"}
    ]
  },
  "concat": [
    {
      "width": 1469,
      "height": 857,
      "view": {"stroke": "#333", "strokeWidth": 2.5},
      "layer": [
        {
          "data": {"name": "trad"},
          "mark": {"type": "line", "strokeWidth": 2.4, "clip": true, "interpolate": "monotone"},
          "encoding": {
            "x": {"field": "time", "type": "temporal",
              "scale": {"domain": [{"year": 2017, "month": 5, "date": 1}, {"year": 2017, "month": 6, "date": 24, "hours": 21, "minutes": 30}]},
              "axis": {"orient": "bottom", "labels": false, "title": null, "tickSize": -15, "domain": true,
                "values": [{"year":2017,"month":5,"date":1},{"year":2017,"month":5,"date":8},{"year":2017,"month":5,"date":15},{"year":2017,"month":5,"date":22},{"year":2017,"month":5,"date":29},{"year":2017,"month":6,"date":5},{"year":2017,"month":6,"date":12},{"year":2017,"month":6,"date":19}]}},
            "y": {"field": "T", "type": "quantitative", "scale": {"domain": [0, 60], "nice": false},
              "axis": {"values": [0, 10, 20, 30, 40, 50, 60], "tickSize": 13, "labelPadding": 4, "labelFontSize": 33,
                "title": "Photovoltaic panel surface temperature (°C)", "titleFontSize": 38, "titlePadding": 40}},
            "color": {"field": "series", "type": "nominal",
              "scale": {"domain": ["Traditional PV panels", "Agrivoltaic PV panels"], "range": ["#808080", "#1414f2"]},
              "legend": {"orient": "none", "legendX": 195, "legendY": 15, "title": null, "symbolType": "stroke", "symbolSize": 5929,
                "labelFontSize": 34, "labelColor": "#222", "labelOffset": 40, "labelLimit": 0, "rowPadding": 7,
                "encode": {"symbols": {"update": {"strokeWidth": {"signal": "datum.value === 'Agrivoltaic PV panels' ? 6 : 2.2"}}}}}}
          }
        },
        {
          "data": {"name": "agri"},
          "mark": {"type": "line", "strokeWidth": 6, "clip": true, "interpolate": "monotone"},
          "encoding": {
            "x": {"field": "time", "type": "temporal",
              "axis": {"orient": "bottom", "labels": false, "title": null, "tickSize": 15, "domain": false,
                "values": [{"year":2017,"month":5,"date":1},{"year":2017,"month":5,"date":8},{"year":2017,"month":5,"date":15},{"year":2017,"month":5,"date":22},{"year":2017,"month":5,"date":29},{"year":2017,"month":6,"date":5},{"year":2017,"month":6,"date":12},{"year":2017,"month":6,"date":19}]}},
            "y": {"field": "T", "type": "quantitative"},
            "color": {"field": "series", "type": "nominal"},
            "detail": {"field": "run", "type": "nominal"}
          }
        },
        {
          "data": {"values": [{}]},
          "mark": {"type": "text", "text": "A", "fontSize": 35, "align": "left", "baseline": "middle", "color": "#111"},
          "encoding": {
            "x": {"datum": {"year": 2017, "month": 5, "date": 1, "hours": 14}, "type": "temporal", "axis": null},
            "y": {"datum": 57.8, "type": "quantitative"}
          }
        }
      ],
      "resolve": {"axis": {"x": "independent"}}
    },
    {
      "width": 892,
      "height": 857,
      "data": {"name": "msg"},
      "mark": {"type": "text", "font": "Liberation Serif", "fontSize": 96, "lineHeight": 106, "lineBreak": "\n", "color": "#1c1c8c", "align": "center", "baseline": "alphabetic"},
      "encoding": {
        "y": {"field": "block", "type": "nominal", "axis": null,
          "scale": {"type": "point", "domain": ["b1", "b2"], "padding": 0.337, "align": 0.496}},
        "text": {"field": "text", "type": "nominal"}
      }
    },
    {
      "hconcat": [
        {
          "width": 1143,
          "height": 612,
          "layer": [
            {
              "data": {"name": "delta"},
              "mark": {"type": "line", "color": "#f36c21", "strokeWidth": 2.6, "clip": true},
              "encoding": {
                "x": {"field": "time", "type": "temporal",
                  "scale": {"domain": [{"year": 2017, "month": 5, "date": 1}, {"year": 2017, "month": 6, "date": 12, "hours": 17}]},
                  "axis": {"orient": "bottom", "format": "%m/%d", "tickSize": 12, "labelPadding": 17, "labelFontSize": 33,
                    "values": [{"year":2017,"month":5,"date":1},{"year":2017,"month":5,"date":8},{"year":2017,"month":5,"date":15},{"year":2017,"month":5,"date":22},{"year":2017,"month":5,"date":29},{"year":2017,"month":6,"date":5},{"year":2017,"month":6,"date":12}],
                    "title": "Date (2017)", "titleFontSize": 36, "titlePadding": 35, "titleX": 735}},
                "y": {"field": "dT", "type": "quantitative", "scale": {"domain": [-23, 5], "nice": false, "zero": false},
                  "axis": {"values": [-20, -15, -10, -5, 0], "tickSize": 13, "labelPadding": 4, "labelFontSize": 33,
                    "labelExpr": "replace(datum.label, '\u2212', '-')",
                    "title": ["Delta Daytime", "PV panel surface temperature", "(Agrivoltaic - Traditional, °C)"],
                    "titleFontSize": 39, "titleLineHeight": 48, "titlePadding": 43}},
                "detail": {"field": "day", "type": "nominal"}
              }
            },
            {
              "data": {"values": [{}]},
              "mark": {"type": "rule", "color": "#111", "strokeWidth": 5, "strokeDash": [0.1, 13.4], "strokeCap": "round"},
              "encoding": {"y": {"datum": 0, "type": "quantitative"}}
            },
            {
              "data": {"values": [{}]},
              "mark": {"type": "text", "text": "B", "fontSize": 35, "align": "left", "baseline": "middle", "color": "#111"},
              "encoding": {
                "x": {"datum": {"year": 2017, "month": 5, "date": 1, "hours": 13}, "type": "temporal",
                  "axis": {"orient": "bottom", "labels": false, "title": null, "tickSize": -12, "domain": false,
                    "values": [{"year":2017,"month":5,"date":1},{"year":2017,"month":5,"date":8},{"year":2017,"month":5,"date":15},{"year":2017,"month":5,"date":22},{"year":2017,"month":5,"date":29},{"year":2017,"month":6,"date":5},{"year":2017,"month":6,"date":12}]}},
                "y": {"datum": 3.5, "type": "quantitative"}
              }
            }
          ],
          "resolve": {"axis": {"x": "independent"}}
        },
        {
          "width": 876,
          "height": 574,
          "layer": [
            {
              "data": {"name": "eff"},
              "mark": {"type": "point", "shape": "M-1,0L1,0M0,-1L0,1", "filled": false, "strokeWidth": 2, "size": 550, "opacity": 1},
              "encoding": {
                "x": {"field": "T", "type": "quantitative", "scale": {"domain": [24.14, 66.46], "nice": false, "zero": false},
                  "axis": {"values": [30, 40, 50, 60], "tickSize": 30, "labelPadding": 20, "labelFont": "Liberation Serif", "labelFontSize": 42, "labelColor": "#111",
                    "domainColor": "#222", "domainWidth": 3, "tickColor": "#222", "tickWidth": 3,
                    "title": "Panel Temperature (C)", "titleFont": "Liberation Serif", "titleFontSize": 43, "titleColor": "#111", "titlePadding": 8}},
                "y": {"field": "eff", "type": "quantitative", "scale": {"domain": [0.08934, 0.12595], "nice": false, "zero": false},
                  "axis": {"values": [0.095, 0.1, 0.105, 0.11, 0.115, 0.12], "format": ".3f", "tickSize": 29, "labelPadding": 16, "labelFont": "Liberation Serif", "labelFontSize": 42, "labelColor": "#111",
                    "domainColor": "#222", "domainWidth": 3, "tickColor": "#222", "tickWidth": 3,
                    "title": "Efficiency", "titleFont": "Liberation Serif", "titleFontSize": 43, "titleColor": "#111", "titlePadding": 35, "titleY": 308}},
                "color": {"field": "grp", "type": "nominal", "legend": null,
                  "scale": {"domain": ["g1", "g2", "g3", "g4", "g5", "g6", "g7", "g8"], "range": ["#8f4fc8", "#30c6d2", "#3d7cf0", "#3cc03c", "#b0d820", "#f0d400", "#ff9430", "#f0421e"]}}
              }
            },
            {
              "data": {"values": [{}]},
              "mark": {"type": "rule", "color": "#111", "strokeWidth": 3},
              "encoding": {"x": {"datum": 26.6}, "x2": {"datum": 62.9}, "y": {"datum": 0.1230}, "y2": {"datum": 0.0919}}
            },
            {
              "data": {"values": [{}]},
              "mark": {"type": "rect", "fill": "white", "stroke": "#111", "strokeWidth": 3},
              "encoding": {"x": {"datum": 24.06}, "x2": {"datum": 53.54}, "y": {"datum": 0.09769}, "y2": {"datum": 0.09043}}
            },
            {
              "data": {"values": [{}]},
              "mark": {"type": "text", "text": ["Sharp NE-Q5E2U", "Temperature Coefficient: -0.6%/C"], "font": "Liberation Serif", "fontSize": 43, "lineHeight": 50, "align": "left", "baseline": "alphabetic", "color": "#111"},
              "encoding": {"x": {"datum": 24.51}, "y": {"datum": 0.09471}}
            },
            {
              "data": {"values": [{}]},
              "mark": {"type": "point", "shape": "M-1,-0.25L0.51,-0.25L0.51,-0.55L1,0L0.51,0.55L0.51,0.25L-1,0.25Z", "size": 28900, "angle": 214.4, "filled": true, "color": "#555", "opacity": 0.45, "xOffset": 4, "yOffset": 5},
              "encoding": {"x": {"datum": 46.1}, "y": {"datum": 0.1063}}
            },
            {
              "data": {"values": [{}]},
              "mark": {"type": "point", "shape": "M-1,-0.25L0.51,-0.25L0.51,-0.55L1,0L0.51,0.55L0.51,0.25L-1,0.25Z", "size": 28900, "angle": 214.4, "filled": true, "color": "#e2302b", "opacity": 1},
              "encoding": {"x": {"datum": 46.1}, "y": {"datum": 0.1063}}
            }
          ]
        }
      ],
      "spacing": 224,
      "bounds": "flush"
    }
  ],
  "columns": 2,
  "bounds": "flush",
  "spacing": {"row": 0, "column": 23},
  "resolve": {"scale": {"color": "independent"}, "legend": {"color": "independent"}}
}
